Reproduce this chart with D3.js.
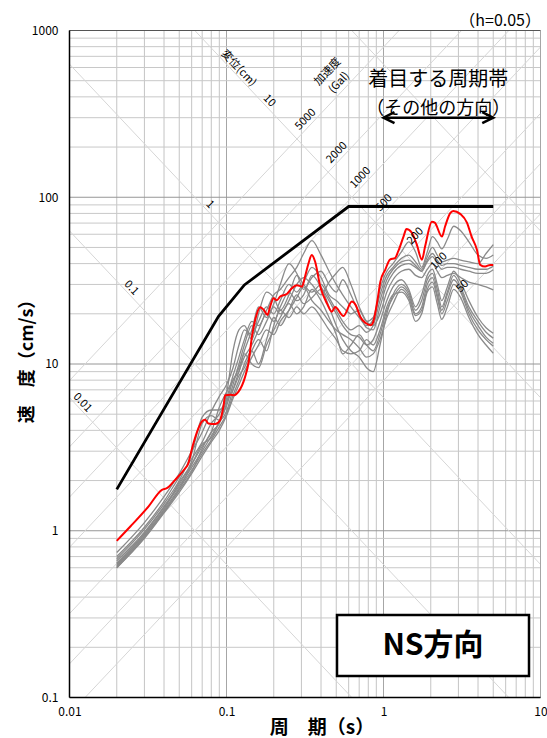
<!DOCTYPE html>
<html>
<head>
<meta charset="utf-8">
<script src="https://cdn.jsdelivr.net/npm/d3@7"></script>
<style>
	body { margin: 0; background: #fff; }
	svg text { font-family: "Noto Sans CJK JP", "Noto Sans", sans-serif; fill: #000; }
</style>
</head>
<body>
<div id="chart"></div>
<script>
	//
	// Datasets
	//

	// axis ticks
	let xTicks = [0.01, 0.1, 1, 10];
	let yTicks = [0.1, 1, 10, 100, 1000];

	// tripartite guide lines
	let dispValues = [0.01, 0.1, 1, 10, 100];            // 変位 (cm)
	let dispLabelValues = [0.01, 0.1, 1, 10];
	let accValues = [50, 100, 200, 500, 1000, 2000, 5000]; // 加速度 (Gal)

	// design spectrum (black)
	let envPeriod = [0.02, 0.089, 0.13, 0.6, 5.0];
	let envVelocity = [1.77, 19.3, 29.8, 88, 88];

	// red spectrum
	let redPeriod = [0.02, 0.0244, 0.0319, 0.0388, 0.0417, 0.0471, 0.0546, 0.0567, 0.0607, 0.0663,
		0.0697, 0.0731, 0.0766, 0.0847, 0.091, 0.0957, 0.0981, 0.1058, 0.112, 0.119,
		0.1315, 0.138, 0.1452, 0.1524, 0.164, 0.172, 0.1825, 0.1902, 0.1993, 0.2092,
		0.2198, 0.2426, 0.2609, 0.2811, 0.3026, 0.3163, 0.3331, 0.3495, 0.367, 0.3955,
		0.436, 0.4687, 0.492, 0.556, 0.629, 0.665, 0.7105, 0.7698, 0.8308, 0.862,
		0.9158, 0.9554, 1.025, 1.10, 1.186, 1.24, 1.341, 1.40, 1.51, 1.63,
		1.757, 1.84, 2.034, 2.12, 2.355, 2.47, 2.66, 2.78, 3.08, 3.40,
		3.64, 3.94, 4.13, 4.44, 4.78, 5.0];
	let redVelocity = [0.87, 1.06, 1.40, 1.76, 1.80, 2.02, 2.37, 2.49, 3.19, 4.12,
		4.52, 4.63, 4.40, 4.36, 4.6, 5.6, 6.5, 6.55, 6.5, 6.8,
		8.4, 10.1, 14.6, 18.4, 21.9, 21.2, 19.7, 22.3, 24.8, 24.1,
		25.4, 26.3, 28.5, 29.7, 29.1, 33.4, 40.2, 45.1, 41, 29.2,
		23.1, 20.6, 22.0, 19.4, 23.7, 22.6, 19.2, 17.6, 17.1, 18.0,
		24.2, 31.2, 36.7, 42.3, 43.2, 47.3, 58.1, 64.4, 61.5, 52.0,
		42.2, 50.6, 71.4, 70.5, 58.1, 67.0, 80.3, 82.8, 79.5, 70.5,
		58.1, 48.3, 39.3, 38.4, 39.3, 39.3];

	// gray spectra, all on the same periods
	let grayPeriod = [0.02, 0.03, 0.04, 0.05, 0.06, 0.07, 0.08, 0.09, 0.1, 0.11,
		0.12, 0.13, 0.145, 0.16, 0.18, 0.2, 0.22, 0.25, 0.28, 0.31,
		0.35, 0.4, 0.45, 0.5, 0.55, 0.62, 0.7, 0.78, 0.86, 0.95,
		1.05, 1.15, 1.3, 1.45, 1.6, 1.75, 1.9, 2.05, 2.2, 2.35,
		2.55, 2.8, 3.1, 3.5, 4.0, 4.5, 5.0];
	let gray01 = [0.74, 1.12, 1.6, 2.2, 3.0, 3.9, 5.2, 6.4, 7.5, 9.5, 13, 16, 15, 18, 22, 20, 24, 30, 27, 31, 38, 33, 26, 24, 22, 20, 21, 18, 19, 28, 36, 40, 47, 54, 47, 38, 47, 58, 54, 49, 56, 67, 63, 54, 45, 43, 45];
	let gray02 = [0.70, 1.05, 1.5, 2.1, 2.7, 3.4, 4.4, 5.0, 6.2, 8.5, 11, 14, 18, 17, 21, 26, 28, 33, 38, 46, 55, 45, 36, 30, 26, 22, 19, 17, 18.5, 26, 34, 38, 43, 45, 41, 37, 44, 50, 45, 41, 42, 43, 42, 41, 40, 46, 52];
	let gray03 = [0.68, 1.02, 1.45, 2.0, 2.9, 4.8, 5.3, 5.3, 6.6, 12, 16, 17, 14, 20, 27, 25, 21, 26, 34, 30, 27, 30, 25, 21, 18, 16, 17, 15.5, 17, 24, 32, 37, 41, 42, 39, 36, 42, 46, 42, 39, 40, 40, 39, 38, 37, 37, 38.6];
	let gray04 = [0.66, 0.98, 1.4, 1.9, 2.5, 3.2, 3.9, 5.5, 6.8, 8, 9.5, 12, 16, 22, 19, 23, 30, 40, 35, 28, 33, 36, 30, 27, 32, 26, 20, 16.5, 16, 22, 30, 35, 39, 40, 38, 36, 41, 44, 40, 37, 38, 38, 37, 36, 35, 35, 36.7];
	let gray05 = [0.64, 0.96, 1.38, 1.85, 2.4, 3.0, 3.7, 4.5, 5.6, 7.5, 10, 13, 17, 15, 18, 22, 20, 24, 30, 33, 30, 26, 31, 35, 38, 30, 22, 18, 17, 20, 27, 32, 36, 37, 34, 33, 37, 40, 36, 33, 34, 35, 33, 31, 30, 29, 27.8];
	let gray06 = [0.63, 0.95, 1.35, 1.95, 2.6, 4.4, 4.9, 4.6, 5.2, 7, 9, 11, 13, 16, 20, 18, 22, 27, 24, 26, 34, 29, 24, 20, 17, 15, 14.5, 13, 14, 18, 24, 29, 32, 28, 22, 26, 34, 37, 30, 24, 29, 36, 31, 24, 19, 16.5, 15.3];
	let gray07 = [0.62, 0.93, 1.33, 1.8, 2.3, 2.9, 3.5, 4.2, 5.0, 6.5, 8, 10, 12, 10, 14, 19, 17, 21, 26, 23, 25, 28, 22, 17, 14, 12, 11, 9.5, 9, 13, 20, 26, 30, 27, 21, 24, 32, 35, 28, 22, 27, 34, 29, 22, 18, 15.5, 14.3];
	let gray08 = [0.61, 0.92, 1.3, 1.75, 2.25, 3.1, 3.9, 4.4, 5.8, 8, 9, 11.5, 10, 9.5, 13, 16, 19, 23, 20, 22, 28, 24, 19, 15, 11.5, 13, 15, 13, 12, 15, 21, 25, 29, 26, 20, 22, 30, 33, 26, 21, 26, 32, 28, 21, 17, 14.5, 13.3];
	let gray09 = [0.60, 0.90, 1.28, 1.7, 2.2, 2.8, 3.4, 4.0, 4.9, 6.2, 7.5, 9, 11, 13, 16, 15, 18, 21, 25, 29, 24, 21, 18, 16, 15, 14, 12.5, 11, 11.5, 14, 19, 23, 28, 25, 19.5, 21, 28, 31, 25, 20, 24, 30, 27, 20, 16, 14, 12.8];
	let gray10 = [0.60, 0.91, 1.3, 1.78, 2.5, 3.3, 3.6, 4.5, 6.0, 7, 8.5, 9.5, 12, 14, 12, 17, 21, 19, 22, 20, 22, 19, 16, 14, 12, 11.5, 12, 14, 13, 16, 22, 26, 27, 24, 18, 20, 27, 29, 23, 18.5, 22, 28, 25, 19, 15, 13, 11.6];
	let grayCurves = [gray01, gray02, gray03, gray04, gray05, gray06, gray07, gray08, gray09, gray10];



	//
	// D3
	//
	var svg_width = 547,
		svg_height = 738;
	var plot = { left: 69.5, right: 540.5, top: 30.5, bottom: 697.5 };
	var TWO_PI = 2 * Math.PI;

	var x = d3.scaleLog().domain([0.01, 10]).range([plot.left, plot.right]);
	var y = d3.scaleLog().domain([0.1, 1000]).range([plot.bottom, plot.top]);

	var svg = d3.select("#chart").append("svg")
		.attr("width", svg_width)
		.attr("height", svg_height);

	svg.append("defs").append("clipPath")
		.attr("id", "plot-clip")
		.append("rect")
		.attr("x", plot.left)
		.attr("y", plot.top)
		.attr("width", plot.right - plot.left)
		.attr("height", plot.bottom - plot.top);

	// grid values: 1..9 x 10^n
	function logSteps(lo, hi) {
		var out = [];
		for (var p = lo; p < hi; p++) {
			for (var k = 1; k <= 9; k++) out.push({ v: k * Math.pow(10, p), major: k == 1 });
		}
		out.push({ v: Math.pow(10, hi), major: true });
		return out;
	}

	var grid = svg.append("g").attr("class", "grid");
	grid.selectAll("line.vx")
		.data(logSteps(-2, 1))
		.enter().append("line")
		.attr("class", "vx")
		.attr("x1", d => x(d.v)).attr("x2", d => x(d.v))
		.attr("y1", plot.top).attr("y2", plot.bottom)
		.style("stroke", d => d.major ? "#a6a6a6" : "#c4c4c4")
		.style("stroke-width", 1);
	grid.selectAll("line.hy")
		.data(logSteps(-1, 3))
		.enter().append("line")
		.attr("class", "hy")
		.attr("y1", d => y(d.v)).attr("y2", d => y(d.v))
		.attr("x1", plot.left).attr("x2", plot.right)
		.style("stroke", d => d.major ? "#969696" : "#c8c8c8")
		.style("stroke-width", 1);

	// diagonal guide lines (displacement: SV = 2πD/T, acceleration: SV = A·T/2π)
	var diag = svg.append("g").attr("clip-path", "url(#plot-clip)");
	diag.selectAll("line.disp")
		.data(dispValues)
		.enter().append("line")
		.attr("x1", x(0.01)).attr("y1", d => y(TWO_PI * d / 0.01))
		.attr("x2", x(10)).attr("y2", d => y(TWO_PI * d / 10))
		.style("stroke", "#d6d6d6").style("stroke-width", 1);
	diag.selectAll("line.acc")
		.data(accValues)
		.enter().append("line")
		.attr("x1", x(0.01)).attr("y1", d => y(d * 0.01 / TWO_PI))
		.attr("x2", x(10)).attr("y2", d => y(d * 10 / TWO_PI))
		.style("stroke", "#d6d6d6").style("stroke-width", 1);

	// spectra
	var line = d3.line()
		.x(d => x(d[0]))
		.y(d => y(d[1]))
		.curve(d3.curveMonotoneX);

	var curves = svg.append("g").attr("clip-path", "url(#plot-clip)");
	curves.selectAll("path.gray")
		.data(grayCurves)
		.enter().append("path")
		.attr("class", "gray")
		.attr("d", vals => line(grayPeriod.map((t, i) => [t, vals[i]])))
		.style("fill", "none")
		.style("stroke", "#8a8a8a")
		.style("stroke-width", 1.3);

	curves.append("path")
		.attr("d", line(redPeriod.map((t, i) => [t, redVelocity[i]])))
		.style("fill", "none")
		.style("stroke", "#ff0000")
		.style("stroke-width", 2);

	curves.append("path")
		.attr("d", d3.line().x(d => x(d[0])).y(d => y(d[1]))(envPeriod.map((t, i) => [t, envVelocity[i]])))
		.style("fill", "none")
		.style("stroke", "#000")
		.style("stroke-width", 2.8);

	// labels of the guide lines, on top of the curves
	var dispAngle = Math.atan2(y(0.1) - y(1), x(10) - x(1)) * 180 / Math.PI;

	// point where displacement D meets acceleration A
	function tripoint(D, A) {
		var v = Math.sqrt(A * D);
		return [x(TWO_PI * D / v), y(v)];
	}

	var labels = svg.append("g").style("font-size", "11px");
	// displacement labels sit along A ≈ 7300 Gal (the smallest one is pulled in from the edge)
	labels.selectAll("text.disp")
		.data(dispLabelValues)
		.enter().append("text")
		.attr("transform", function(d) {
			var acc = d == 0.01 ? 3070 : (d == 10 ? 12800 : 7300);
			var p = tripoint(d, acc);
			return "translate(" + p[0] + "," + p[1] + ") rotate(" + dispAngle + ")";
		})
		.attr("text-anchor", "middle")
		.attr("dy", "-0.25em")
		.text(d => d);
	var pv = tripoint(10, 31400);
	labels.append("text")
		.attr("transform", "translate(" + pv[0] + "," + pv[1] + ") rotate(" + dispAngle + ")")
		.attr("text-anchor", "middle")
		.attr("dy", "-0.25em")
		.text("変位(cm)");

	// acceleration labels sit along D ≈ 15 cm
	labels.selectAll("text.acc")
		.data(accValues)
		.enter().append("text")
		.attr("transform", function(d) {
			var p = tripoint(15, d);
			return "translate(" + p[0] + "," + p[1] + ") rotate(" + (-dispAngle) + ")";
		})
		.attr("text-anchor", "middle")
		.attr("dy", "-0.35em")
		.text(d => d);
	var pa = tripoint(40, 7000);
	var accTitle = labels.append("text")
		.attr("transform", "translate(" + pa[0] + "," + pa[1] + ") rotate(" + (-dispAngle) + ")")
		.attr("text-anchor", "middle");
	accTitle.append("tspan").attr("x", 0).attr("dy", "-0.35em").text("加速度");
	accTitle.append("tspan").attr("x", 0).attr("dy", "1.45em").text("(Gal)");

	// frame
	svg.append("line").attr("x1", plot.left).attr("x2", plot.right).attr("y1", plot.top).attr("y2", plot.top)
		.style("stroke", "#555").style("stroke-width", 1.2);
	svg.append("line").attr("x1", plot.right).attr("x2", plot.right).attr("y1", plot.top).attr("y2", plot.bottom)
		.style("stroke", "#a6a6a6").style("stroke-width", 1);
	svg.append("line").attr("x1", plot.left).attr("x2", plot.left).attr("y1", plot.top).attr("y2", plot.bottom)
		.style("stroke", "#000").style("stroke-width", 1.5);
	svg.append("line").attr("x1", plot.left).attr("x2", plot.right).attr("y1", plot.bottom).attr("y2", plot.bottom)
		.style("stroke", "#000").style("stroke-width", 1.5);

	// axes
	var fmt = d3.format("~g");
	svg.append("g")
		.attr("transform", "translate(0," + plot.bottom + ")")
		.call(d3.axisBottom(x).tickValues(xTicks).tickFormat(fmt).tickSize(0).tickPadding(10))
		.call(g => g.select(".domain").remove())
		.selectAll("text").style("font-size", "12px").style("font-family", '"Noto Sans CJK JP", sans-serif');
	svg.append("g")
		.attr("transform", "translate(" + (plot.left - 11) + ",0)")
		.call(d3.axisLeft(y).tickValues(yTicks).tickFormat(fmt).tickSize(0).tickPadding(0))
		.call(g => g.select(".domain").remove())
		.selectAll("text").style("font-size", "12px").style("font-family", '"Noto Sans CJK JP", sans-serif');

	svg.append("text")
		.attr("x", 322).attr("y", 729)
		.attr("text-anchor", "middle").attr("dominant-baseline", "middle")
		.style("font-size", "19px").style("font-weight", "bold")
		.text("周　期（s）");
	svg.append("text")
		.attr("transform", "translate(28,357) rotate(-90)")
		.attr("text-anchor", "middle").attr("dominant-baseline", "middle")
		.style("font-size", "18px").style("font-weight", "bold")
		.text("速　度（cm/s）");

	svg.append("text")
		.attr("x", 541).attr("y", 26)
		.attr("text-anchor", "end")
		.style("font-size", "16px")
		.text("（h=0.05）");

	// focus period band
	var bandMid = x(Math.sqrt(1 * 5));
	svg.append("text")
		.attr("x", bandMid).attr("y", 86)
		.attr("text-anchor", "middle")
		.style("font-size", "20px")
		.text("着目する周期帯");
	svg.append("text")
		.attr("x", bandMid).attr("y", 114)
		.attr("text-anchor", "middle")
		.style("font-size", "18px")
		.text("（その他の方向）");
	var ay = y(300);
	svg.append("line")
		.attr("x1", x(1)).attr("x2", x(5)).attr("y1", ay).attr("y2", ay)
		.style("stroke", "#000").style("stroke-width", 2.5);
	[[x(1), 1], [x(5), -1]].forEach(function(a) {
		svg.append("path")
			.attr("d", "M" + (a[0] + a[1] * 11) + "," + (ay - 5.5) + "L" + a[0] + "," + ay + "L" + (a[0] + a[1] * 11) + "," + (ay + 5.5))
			.style("fill", "none").style("stroke", "#000").style("stroke-width", 2.5);
	});

	// direction box
	svg.append("rect")
		.attr("x", 337).attr("y", 615)
		.attr("width", 192).attr("height", 61)
		.style("fill", "#fff").style("stroke", "#000").style("stroke-width", 2.5);
	svg.append("text")
		.attr("x", 433).attr("y", 647)
		.attr("text-anchor", "middle").attr("dominant-baseline", "middle")
		.style("font-size", "30px").style("font-weight", "bold")
		.text("NS方向");
</script>
</body>
</html>
